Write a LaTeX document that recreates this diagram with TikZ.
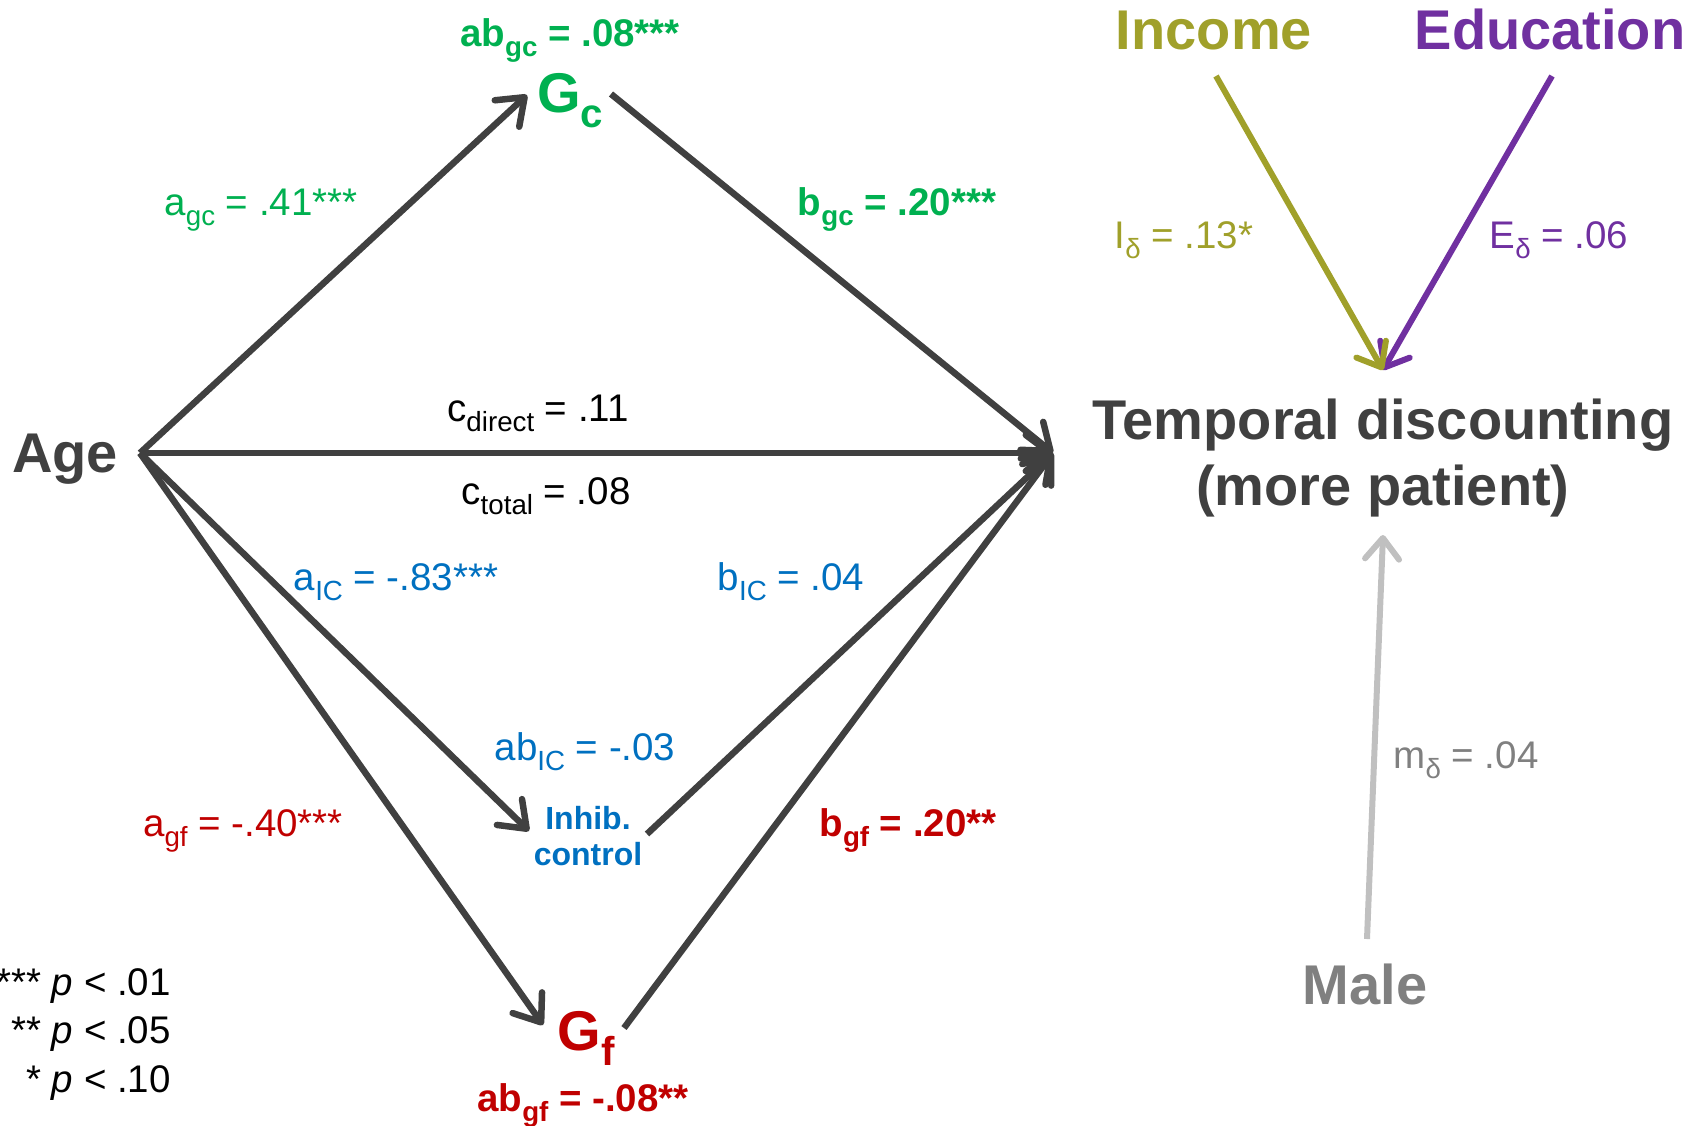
\documentclass[tikz,border=0pt]{standalone}
\usepackage{fontspec}
\setmainfont{Liberation Sans}
\usepackage{graphicx}
\usetikzlibrary{arrows.meta}
\definecolor{dk}{RGB}{64,64,64}
\definecolor{gr}{RGB}{0,176,80}
\definecolor{bl}{RGB}{0,112,192}
\definecolor{rd}{RGB}{192,0,0}
\definecolor{ol}{RGB}{160,160,42}
\definecolor{pu}{RGB}{112,48,160}
\definecolor{gy}{RGB}{128,128,128}
\definecolor{lgy}{RGB}{192,192,192}
\newcommand\sbs[1]{\raisebox{-0.27em}{\scalebox{0.72}{#1}}}
\begin{document}
\begin{tikzpicture}[x=1pt,y=-1pt,
  lab/.style={font=\fontsize{38.5}{46}\selectfont, anchor=base, inner sep=0pt},
  blab/.style={font=\fontsize{38.5}{46}\selectfont\bfseries, anchor=base, inner sep=0pt},
  big/.style={font=\fontsize{56}{66}\selectfont\bfseries, anchor=base, inner sep=0pt},
  ictext/.style={font=\fontsize{32}{36}\selectfont\bfseries, anchor=base, inner sep=0pt, text=bl},
  darr/.style={draw=dk, line width=6.5pt, -{Straight Barb[round, length=24pt, width=36pt]}},
  carr/.style={line width=6pt, -{Straight Barb[round, length=21pt, width=34pt]}}]
\useasboundingbox (0,0) rectangle (1692,1125);
% anchor points
\coordinate (ageout) at (140,453);
\coordinate (gcin) at (527,95);
\coordinate (gcout) at (611,94);
\coordinate (tdin) at (1053,453);
\coordinate (icin) at (529,831);
\coordinate (icout) at (647,834);
\coordinate (gfin) at (543,1025);
\coordinate (gfout) at (624,1028);
\coordinate (incout) at (1216,76);
\coordinate (eduout) at (1552,76);
\coordinate (tdtop) at (1383,370);
\coordinate (maleout) at (1367,939);
\coordinate (tdbot) at (1383,535);
% main nodes
\node[big, text=dk] (age) at (65,472) {Age};
\node[big, text=gr] (gc) at (570,112) {G\sbs{c}};
\node[big, text=rd] (gf) at (586,1050) {G\sbs{f}};
\node[ictext] (ic) at (588,829) {Inhib.};
\node[ictext] (ic2) at (588,865) {control};
\node[big, text=dk] (td) at (1383,439) {Temporal discounting};
\node[big, text=dk] (td2) at (1383,505) {(more patient)};
\node[big, text=ol] (inc) at (1214,49) {Income};
\node[big, text=pu] (edu) at (1550,49) {Education};
\node[big, text=gy] (male) at (1365,1004) {Male};
% connectors
\draw[darr] (ageout) -- (gcin);
\draw[darr] (gcout) -- (tdin);
\draw[darr] (ageout) -- (tdin);
\draw[darr] (ageout) -- (icin);
\draw[darr] (icout) -- (tdin);
\draw[darr] (ageout) -- (gfin);
\draw[darr] (gfout) -- (tdin);
\draw[carr, draw=pu] (eduout) -- (tdtop);
\draw[carr, draw=ol] (incout) -- (tdtop);
\draw[carr, draw=lgy] (maleout) -- (tdbot);
% labels
\node[blab, text=gr] (labgc) at (570,46) {ab\sbs{gc} = .08***};
\node[lab, text=gr] (agc) at (261,215) {a\sbs{gc} = .41***};
\node[blab, text=gr] (bgc) at (897,215) {b\sbs{gc} = .20***};
\node[lab, text=black] (cdir) at (538,421) {c\sbs{direct} = .11};
\node[lab, text=black] (ctot) at (546,504) {c\sbs{total} = .08};
\node[lab, text=bl] (aic) at (396,590) {a\sbs{IC} = -.83***};
\node[lab, text=bl] (bic) at (791,590) {b\sbs{IC} = .04};
\node[lab, text=bl] (abic) at (585,760) {ab\sbs{IC} = -.03};
\node[lab, text=rd] (agf) at (243,836) {a\sbs{gf} = -.40***};
\node[blab, text=rd] (bgf) at (908,836) {b\sbs{gf} = .20**};
\node[blab, text=rd] (abgf) at (583,1111) {ab\sbs{gf} = -.08**};
\node[lab, text=ol] (idl) at (1184,248) {I\sbs{δ} = .13*};
\node[lab, text=pu] (edl) at (1559,248) {E\sbs{δ} = .06};
\node[lab, text=gy] (mdl) at (1466,768) {m\sbs{δ} = .04};
% legend
\node[lab, anchor=base east, text=black] (l1) at (171,995) {*** \textit{p} < .01};
\node[lab, anchor=base east, text=black] (l2) at (171,1043) {** \textit{p} < .05};
\node[lab, anchor=base east, text=black] (l3) at (171,1092) {* \textit{p} < .10};
\end{tikzpicture}
\end{document}
